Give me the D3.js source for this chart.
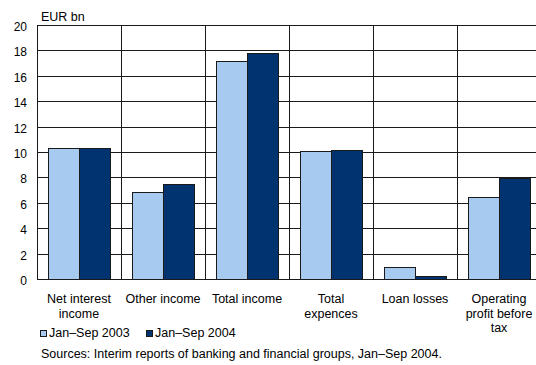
<!DOCTYPE html>
<html>
<head>
<meta charset="utf-8">
<script src="https://cdn.jsdelivr.net/npm/d3@7"></script>
<style>
  html, body { margin: 0; padding: 0; background: #fff; }
  svg { display: block; font-family: "Liberation Sans", Arial, sans-serif; }
</style>
</head>
<body>
<svg id="chart" width="536" height="365"></svg>
<script>
// Banking and financial groups, EUR bn
const categories = [
  ["Net interest", "income"],
  ["Other income"],
  ["Total income"],
  ["Total", "expences"],
  ["Loan losses"],
  ["Operating", "profit before", "tax"]
];
const seriesNames = ["Jan\u2013Sep 2003", "Jan\u2013Sep 2004"];
const values2003 = [10.3, 6.85, 17.2, 10.1, 0.92, 6.45];
const values2004 = [10.28, 7.5, 17.8, 10.15, 0.27, 7.98];
const yTicks = [0, 2, 4, 6, 8, 10, 12, 14, 16, 18, 20];
const unitLabel = "EUR bn";
const sourceNote = "Sources: Interim reports of banking and financial groups, Jan\u2013Sep 2004.";

const colors = ["#A6CAF0", "#003370"];
const lineColor = "#1a1a1a";
const fontSize = 12.5;

const svg = d3.select("#chart");
const plotLeft = 37, plotTop = 25, plotBottom = 279, step = 84;
const keys = categories.map((c, i) => i);

const x0 = d3.scaleBand().domain(keys).range([plotLeft, plotLeft + step * keys.length]).padding(0);
const x1 = d3.scaleBand().domain([0, 1]).range([11, 73]).padding(0);
const y = d3.scaleLinear().domain([0, 20]).range([plotBottom, plotTop]);

const plotRight = x0.range()[1];

// horizontal grid
svg.append("g")
  .selectAll("line")
  .data(yTicks)
  .join("line")
  .attr("x1", plotLeft).attr("x2", plotRight)
  .attr("y1", d => Math.round(y(d)) + 0.5).attr("y2", d => Math.round(y(d)) + 0.5)
  .attr("stroke", lineColor).attr("stroke-width", 1);

// vertical separators between categories
svg.append("g")
  .selectAll("line")
  .data(keys.concat([keys.length]))
  .join("line")
  .attr("x1", d => Math.round(plotLeft + step * d) + 0.5)
  .attr("x2", d => Math.round(plotLeft + step * d) + 0.5)
  .attr("y1", Math.round(y(20)) + 0.5).attr("y2", Math.round(y(0)) + 0.5)
  .attr("stroke", lineColor).attr("stroke-width", 1);

// bars
const series = [values2003, values2004];
const groups = svg.append("g").selectAll("g")
  .data(keys)
  .join("g")
  .attr("transform", d => `translate(${x0(d)},0)`);

groups.selectAll("rect")
  .data(d => series.map((s, si) => ({ si, v: s[d] })))
  .join("rect")
  .attr("x", d => Math.round(x1(d.si)) + 0.5)
  .attr("width", x1.bandwidth())
  .attr("y", d => Math.round(y(d.v)) + 0.5)
  .attr("height", d => Math.round(y(0)) - Math.round(y(d.v)))
  .attr("fill", d => colors[d.si])
  .attr("stroke", lineColor)
  .attr("stroke-width", 1);

// y tick labels
svg.append("g")
  .selectAll("text")
  .data(yTicks)
  .join("text")
  .attr("x", 27)
  .attr("y", d => y(d) + 6)
  .attr("text-anchor", "end")
  .attr("font-size", 12)
  .attr("fill", "#000")
  .text(d => d);

// unit label
svg.append("text")
  .attr("x", 41).attr("y", 21)
  .attr("font-size", fontSize)
  .text(unitLabel);

// category labels
const catLabels = svg.append("g")
  .selectAll("text")
  .data(keys)
  .join("text")
  .attr("x", d => x0(d) + step / 2)
  .attr("y", 303)
  .attr("text-anchor", "middle")
  .attr("font-size", fontSize);
catLabels.selectAll("tspan")
  .data(d => categories[d])
  .join("tspan")
  .attr("x", function () { return d3.select(this.parentNode).attr("x"); })
  .attr("dy", (d, i) => i === 0 ? 0 : 14.5)
  .text(d => d);

// legend
const legendX = [40, 146];
const legend = svg.append("g")
  .selectAll("g")
  .data(seriesNames)
  .join("g")
  .attr("transform", (d, i) => `translate(${legendX[i]},330)`);
legend.append("rect")
  .attr("x", 0.5).attr("y", 0.5)
  .attr("width", 6).attr("height", 6)
  .attr("fill", (d, i) => colors[i])
  .attr("stroke", lineColor);
legend.append("text")
  .attr("x", 9).attr("y", 7)
  .attr("font-size", fontSize)
  .text(d => d);

// source note
svg.append("text")
  .attr("x", 41).attr("y", 358)
  .attr("font-size", fontSize)
  .text(sourceNote);
</script>
</body>
</html>
